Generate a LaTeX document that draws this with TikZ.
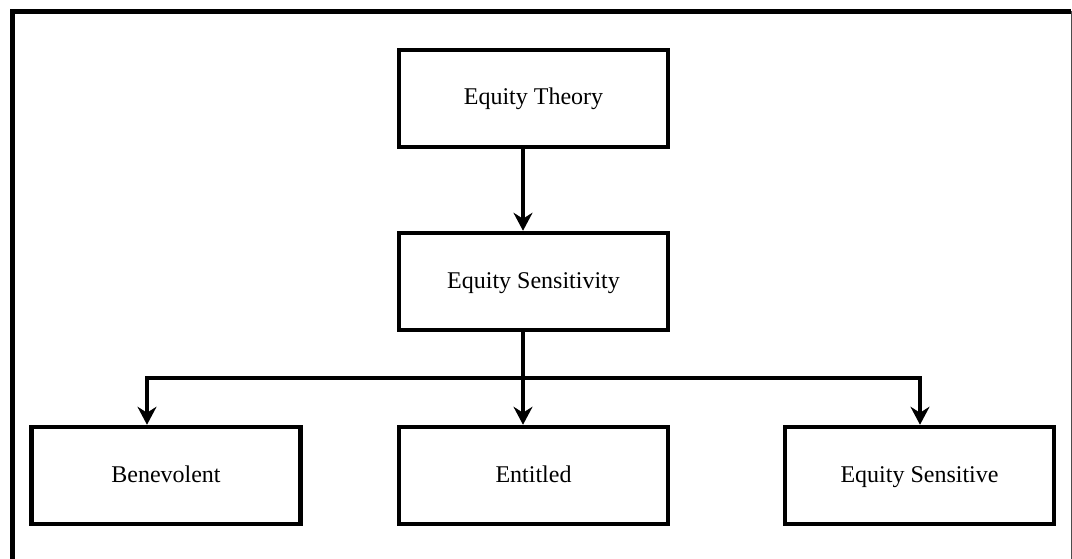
\documentclass[tikz,border=0pt]{standalone}
\usepackage{fontspec}
\setmainfont{Liberation Serif}
\usetikzlibrary{arrows.meta}
\begin{document}
\begin{tikzpicture}[x=1pt,y=-1pt,
  box/.style={draw=black,line width=4.5pt,fill=white,minimum width=269pt,minimum height=97pt,inner sep=0pt,
    text height=18pt,text depth=5pt,font=\fontsize{24}{28}\selectfont},
  conn/.style={line width=4.5pt},
  arr/.style={line width=4.5pt,-{Stealth[length=18pt,width=19pt,inset=6pt]}}]
\useasboundingbox (0,0) rectangle (1072,559);
% outer frame
\draw[line width=5pt] (12,559) -- (12,11.5) -- (1071,11.5);
\draw[line width=1pt,black!70] (1071.5,11) -- (1071.5,559);
% nodes
\node[box] (et) at (533.5,98.5) {Equity Theory};
\node[box] (es) at (533.5,281.5) {Equity Sensitivity};
\node[box] (ben) at (166,475.5) {Benevolent};
\node[box] (ent) at (533.5,475.5) {Entitled};
\node[box] (eqs) at (919.5,475.5) {Equity Sensitive};
% junction coordinates
\coordinate (jm) at (523,378);
\coordinate (jl) at (147,378);
\coordinate (jr) at (920,378);
% connectors
\draw[arr] (et.south -| jm) -- (es.north -| jm);
\draw[conn] (es.south -| jm) -- (jm);
\draw[arr] (jm) -- (ent.north -| jm);
\draw[conn,line cap=rect] (jl) -- (jr);
\draw[arr] (jl) -- (ben.north -| jl);
\draw[arr] (jr) -- (eqs.north -| jr);
\end{tikzpicture}
\end{document}
